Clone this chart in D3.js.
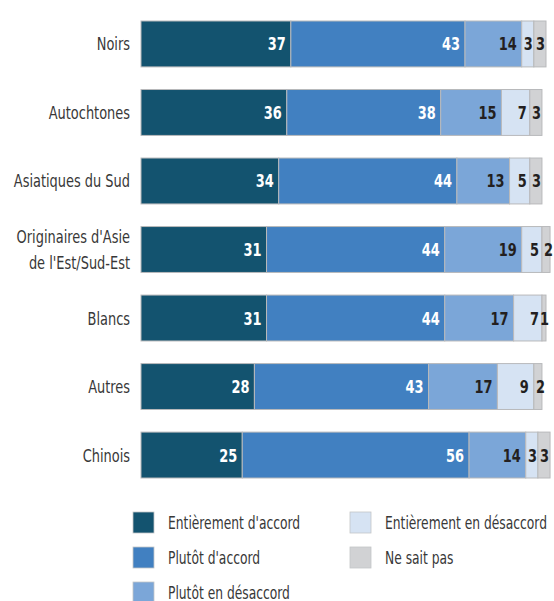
<!DOCTYPE html>
<html>
<head>
<meta charset="utf-8">
<script src="https://cdn.jsdelivr.net/npm/d3@7"></script>
<style>
  html, body { margin: 0; padding: 0; background: #fff; }
  svg { display: block; }
  text { font-family: "DejaVu Sans", sans-serif; font-stretch: condensed; }
</style>
</head>
<body>
<svg id="chart" width="554" height="601"></svg>
<script>
// Groups (rows, top to bottom)
const groups = ["Noirs", "Autochtones", "Asiatiques du Sud", "Originaires d'Asie\nde l'Est/Sud-Est", "Blancs", "Autres", "Chinois"];

// Answer categories (stack order, left to right)
const answers = ["Entièrement d'accord", "Plutôt d'accord", "Plutôt en désaccord", "Entièrement en désaccord", "Ne sait pas"];

// Percentages per answer, one value per group
const entierementAccord    = [37, 36, 34, 31, 31, 28, 25];
const plutotAccord         = [43, 38, 44, 44, 44, 43, 56];
const plutotDesaccord      = [14, 15, 13, 19, 17, 17, 14];
const entierementDesaccord = [3, 7, 5, 5, 7, 9, 3];
const neSaitPas            = [3, 3, 3, 2, 1, 2, 3];

const colors = ["#13536f", "#4180c1", "#7ba6d8", "#d6e3f3", "#d1d2d4"];
const labelColors = ["#ffffff", "#ffffff", "#231f20", "#231f20", "#231f20"];

const seriesValues = [entierementAccord, plutotAccord, plutotDesaccord, entierementDesaccord, neSaitPas];

// Build a table for d3.stack
const table = groups.map((g, i) => {
  const row = { group: g };
  answers.forEach((a, k) => { row[a] = seriesValues[k][i]; });
  return row;
});

const svg = d3.select("#chart");
const NARROW = 0.8;   // horizontal squeeze for a condensed look

const x = d3.scaleLinear().domain([0, 100]).range([141, 546]);
const y = d3.scaleBand().domain(groups).range([21, 478]).paddingInner(0.33).paddingOuter(0);

const stacked = d3.stack().keys(answers)(table);

const layer = svg.append("g").selectAll("g")
  .data(stacked)
  .join("g")
  .attr("fill", (d, k) => colors[k]);

layer.selectAll("rect")
  .data(d => d)
  .join("rect")
  .attr("x", d => x(d[0]))
  .attr("y", d => y(d.data.group))
  .attr("width", d => x(d[1]) - x(d[0]))
  .attr("height", y.bandwidth())
  .attr("stroke", "#b8b9bb")
  .attr("stroke-width", 1);

// Value labels, right-aligned inside each segment
layer.each(function(series, k) {
  d3.select(this).selectAll("text")
    .data(series)
    .join("text")
    .attr("transform", d => {
      const w = x(d[1]) - x(d[0]);
      const pad = w < 10 ? 3 : (w < 14 ? -1 : (w < 32 ? -3 : -5));
      const tx = x(d[1]) + pad;
      const ty = y(d.data.group) + y.bandwidth() / 2;
      return `translate(${tx},${ty}) scale(${NARROW},1)`;
    })
    .attr("dy", "0.36em")
    .attr("text-anchor", "end")
    .attr("font-size", 18)
    .attr("font-weight", "bold")
    .attr("fill", labelColors[k])
    .text(d => d[1] - d[0]);
});

// Category labels on the left
const cat = svg.append("g").selectAll("text")
  .data(groups)
  .join("text")
  .attr("text-anchor", "end")
  .attr("font-size", 18)
  .attr("fill", "#383838")
  .attr("transform", g => {
    const lines = g.split("\n");
    const cy = y(g) + y.bandwidth() / 2 - (lines.length - 1) * 13;
    return `translate(130,${cy}) scale(${NARROW},1)`;
  });

cat.selectAll("tspan")
  .data(g => g.split("\n"))
  .join("tspan")
  .attr("x", 0)
  .attr("dy", (d, i) => i === 0 ? "0.36em" : "26")
  .text(d => d);

// Legend (two columns)
const legendPos = [
  { x: 133, y: 512 }, { x: 133, y: 547 }, { x: 133, y: 582 },
  { x: 350, y: 512 }, { x: 350, y: 547 }
];

const legend = svg.append("g").selectAll("g")
  .data(answers)
  .join("g")
  .attr("transform", (d, k) => `translate(${legendPos[k].x},${legendPos[k].y})`);

legend.append("rect")
  .attr("width", 21)
  .attr("height", 21)
  .attr("fill", (d, k) => colors[k])
  .attr("stroke", "#c4c5c7")
  .attr("stroke-width", 0.8);

legend.append("text")
  .attr("transform", `translate(35,10.5) scale(0.76,1)`)
  .attr("dy", "0.36em")
  .attr("font-size", 18)
  .attr("fill", "#383838")
  .text(d => d);
</script>
</body>
</html>
